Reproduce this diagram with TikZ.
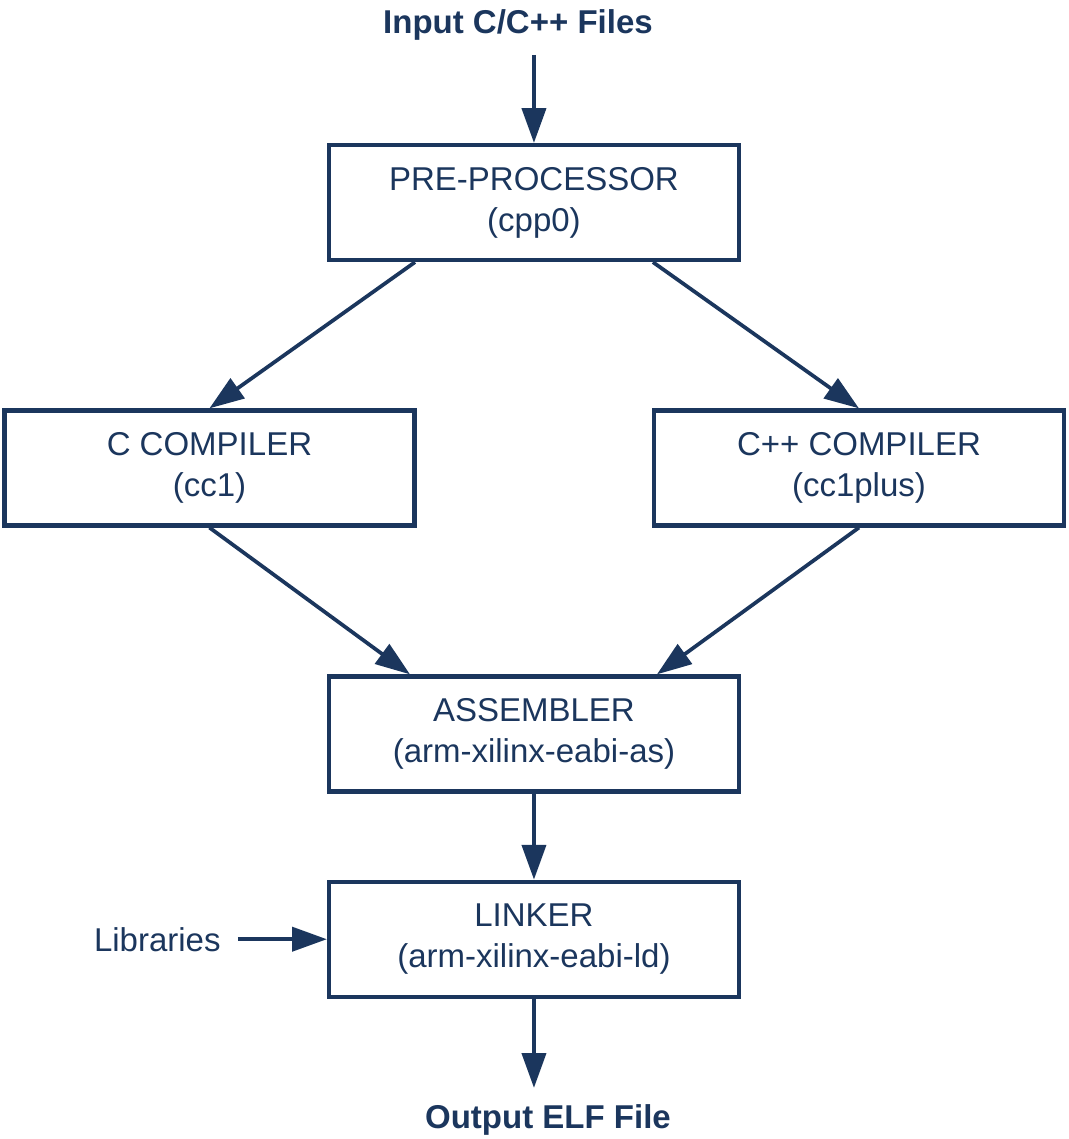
\documentclass[tikz,border=0pt]{standalone}
\usepackage{fontspec}
\setmainfont{Liberation Sans}
\usetikzlibrary{positioning,arrows.meta}
\definecolor{flowblue}{RGB}{27,54,93}

\begin{document}
\begin{tikzpicture}[
        stage/.style={draw=flowblue, line width=3.2pt, minimum width=307.5pt, minimum height=86.25pt, align=center, text=flowblue, font=\fontsize{24.75}{30.75}\selectfont},
        label/.style={inner sep=0pt, text=flowblue, font=\fontsize{24.75}{30.75}\selectfont},
        flow/.style={draw=flowblue, line width=2.8pt, -{Triangle[length=26pt, width=18pt]}}
    ]

        \useasboundingbox (-400.5pt,-702.4pt) rectangle (401.25pt,151.9pt);

        % Tool stages
        \node[stage] (pre) at (0,0) {PRE-PROCESSOR\\(cpp0)};
        \node[stage] (ccomp) at (-243.4pt,-199.1pt) {C COMPILER\\(cc1)};
        \node[stage] (cppcomp) at (243.75pt,-199.1pt) {C++ COMPILER\\(cc1plus)};
        \node[stage] (asm) at (0,-398.6pt) {ASSEMBLER\\(arm-xilinx-eabi-as)};
        \node[stage, below=64.5pt of asm] (link) {LINKER\\(arm-xilinx-eabi-ld)};

        % Input and output ends
        \coordinate[above=66pt of pre] (infile);
        \coordinate[below=66.75pt of link] (elf);
        \coordinate[left=66.75pt of link] (libin);
        \node[label, font=\fontsize{24.75}{30.75}\selectfont\bfseries, above=10.5pt of infile, xshift=-12pt] (input) {Input C/C++ Files};
        \node[label, font=\fontsize{24.75}{30.75}\selectfont\bfseries, below=12pt of elf, xshift=10.5pt] (output) {Output ELF File};
        \node[label, left=12.75pt of libin] (libs) {Libraries};

        % Connections
        \draw[flow] (infile) -- (pre);
        \draw[flow] ([xshift=-89.25pt]pre.south) -- (ccomp.north);
        \draw[flow] ([xshift=89.25pt]pre.south) -- (cppcomp.north);
        \draw[flow] (ccomp.south) -- ([xshift=-93pt]asm.north);
        \draw[flow] (cppcomp.south) -- ([xshift=92.25pt]asm.north);
        \draw[flow] (asm) -- (link);
        \draw[flow] (libin) -- (link);
        \draw[flow] (link) -- (elf);

    \end{tikzpicture}
\end{document}
